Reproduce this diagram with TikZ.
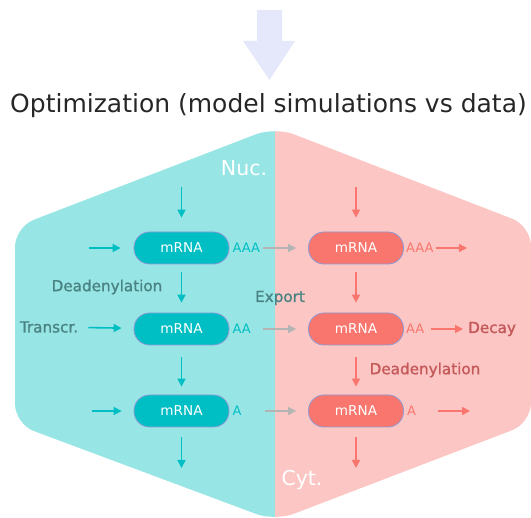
\documentclass[tikz,border=0pt]{standalone}
\usepackage{fontspec}
\setmainfont{DejaVu Sans}
\newfontfamily\labelfont{DejaVu Sans}[FakeBold=1.2]
\usetikzlibrary{arrows.meta,positioning}
\definecolor{nucfill}{HTML}{98E5E5}
\definecolor{cytfill}{HTML}{FBC6C3}
\definecolor{nucdark}{HTML}{00BFC4}
\definecolor{cytdark}{HTML}{F8766D}
\definecolor{pillrim}{HTML}{8E9BD6}
\definecolor{nuctext}{HTML}{4A8383}
\definecolor{cyttext}{HTML}{C4585A}
\definecolor{exparrow}{HTML}{B4B4B4}
\definecolor{optarrow}{HTML}{E4E8FA}

\begin{document}
\begin{tikzpicture}[x=1pt,y=-1pt,
  pill/.style={draw=pillrim,line width=0.8pt,rounded corners=15.5pt,minimum width=95pt,
    minimum height=32pt,inner sep=0pt,text=white,font=\fontsize{13.6}{15}\selectfont},
  nucrna/.style={pill,fill=nucdark},
  cytrna/.style={pill,fill=cytdark},
  tail/.style={inner sep=0pt,font=\fontsize{13}{15}\selectfont},
  nuclabel/.style={inner sep=0pt,text=nuctext,font=\labelfont\fontsize{15.2}{18}\selectfont},
  cytlabel/.style={inner sep=0pt,text=cyttext,font=\labelfont\fontsize{15.2}{18}\selectfont},
  region/.style={inner sep=0pt,text=white,font=\fontsize{20.5}{24}\selectfont},
  flow/.style={line width=1.6pt,-{Triangle[length=8pt,width=8pt]}},
  nucarrow/.style={flow,draw=nucdark,fill=nucdark},
  cytarrow/.style={flow,draw=cytdark,fill=cytdark},
  exportarrow/.style={flow,draw=exparrow,fill=exparrow}]
\useasboundingbox (0,0) rectangle (531,518);

% hexagon, nucleus half and cytoplasm half
\def\hexpath{(275,127) -- (15,227) -- (15,424) -- (275,521) -- (531,423) -- (531,226) -- cycle}
\begin{scope}
\clip (0,0) rectangle (275,518);
\fill[nucfill,rounded corners=20pt] \hexpath;
\end{scope}
\begin{scope}
\clip (275,0) rectangle (531,518);
\fill[cytfill,rounded corners=20pt] \hexpath;
\end{scope}

% optimization step
\fill[optarrow] (257,10) -- (282,10) -- (282,41) -- (295,41) -- (269.5,80) -- (243,41) -- (257,41) -- cycle;
\node[inner sep=0pt,text=black!85,font=\fontsize{25}{30}\selectfont] (title) at (268.5,106) {Optimization (model simulations vs data)};

\node[region] (nuc) at (244,168) {Nuc.};
\node[region] (cyt) at (302,480) {Cyt.};

% mRNA states
\node[nucrna] (n1) at (181.5,248) {mRNA};
\node[nucrna] (n2) at (181.5,329) {mRNA};
\node[nucrna] (n3) at (181.5,411) {mRNA};
\node[cytrna] (c1) at (356,248) {mRNA};
\node[cytrna] (c2) at (356,329) {mRNA};
\node[cytrna] (c3) at (356,411) {mRNA};

\node[tail,text=nucdark,right=3pt of n1] (n1tail) {AAA};
\node[tail,text=nucdark,right=3pt of n2] (n2tail) {AA};
\node[tail,text=nucdark,right=3pt of n3] (n3tail) {A};
\node[tail,text=cytdark,right=2pt of c1] (c1tail) {AAA};
\node[tail,text=cytdark,right=2pt of c2] (c2tail) {AA};
\node[tail,text=cytdark,right=3pt of c3] (c3tail) {A};

\node[nuclabel] (deadn) at (107,287) {Deadenylation};
\node[nuclabel] (transcr) at (49,327) {Transcr.};
\node[nuclabel] (export) at (280,298) {Export};
\node[cytlabel] (deadc) at (425,370) {Deadenylation};
\node[cytlabel,anchor=west] (decay) at (468,329) {Decay};

% free ends
\coordinate (nuctop) at (181.5,187);
\coordinate (nucbot) at (181.5,468);
\coordinate (cyttop) at (356,187);
\coordinate (cytbot) at (356,468);
\coordinate (n1in) at (89,248);
\coordinate (n3in) at (92,411);
\coordinate (c1out) at (467,248);
\coordinate (c3out) at (470,411);

% nucleus
\draw[nucarrow,shorten >=14pt] (nuctop) -- (n1);
\draw[nucarrow,shorten <=8pt,shorten >=10pt] (n1) -- (n2);
\draw[nucarrow,shorten <=12pt,shorten >=8pt] (n2) -- (n3);
\draw[nucarrow,shorten <=10pt] (n3) -- (nucbot);
\draw[nucarrow,shorten >=13pt] (n1in) -- (n1);
\draw[nucarrow,shorten <=10pt,shorten >=12pt] (transcr) -- (n2);
\draw[nucarrow,shorten >=12pt] (n3in) -- (n3);

% export
\draw[exportarrow,shorten <=34pt,shorten >=12pt] (n1) -- (c1);
\draw[exportarrow,shorten <=34pt,shorten >=12pt] (n2) -- (c2);
\draw[exportarrow,shorten <=36pt,shorten >=12pt] (n3) -- (c3);

% cytoplasm
\draw[cytarrow,shorten >=14pt] (cyttop) -- (c1);
\draw[cytarrow,shorten <=8pt,shorten >=10pt] (c1) -- (c2);
\draw[cytarrow,shorten <=12pt,shorten >=8pt] (c2) -- (c3);
\draw[cytarrow,shorten <=10pt] (c3) -- (cytbot);
\draw[cytarrow,shorten <=2pt] (c1tail) -- (c1out);
\draw[cytarrow,shorten <=7pt,shorten >=5pt] (c2tail) -- (decay);
\draw[cytarrow,shorten <=22pt] (c3tail) -- (c3out);
\end{tikzpicture}
\end{document}
